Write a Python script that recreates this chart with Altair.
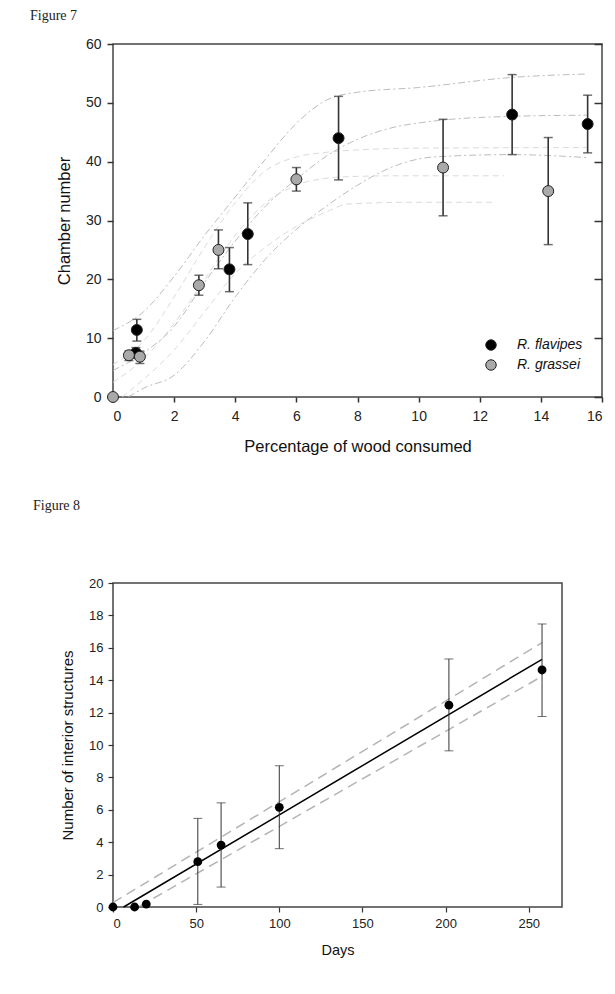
import altair as alt
import pandas as pd

FONT = "Liberation Sans"
SERIF = "Liberation Serif"

# ---------------- Figure 7 data ----------------
fig7_label = "Figure 7"
species = ["R. flavipes", "R. grassei"]

fl_x = [0.78, 0.75, 3.81, 4.41, 7.38, 13.06, 15.53]
fl_y = [11.4, 7.5, 21.7, 27.7, 44.0, 48.0, 46.4]
fl_lo = [9.5, 6.6, 17.9, 22.5, 36.9, 41.2, 41.5]
fl_hi = [13.2, 8.4, 25.4, 33.0, 51.1, 54.8, 51.3]

gr_x = [0.0, 0.52, 0.88, 2.81, 3.45, 6.0, 10.8, 14.24]
gr_y = [0.0, 7.1, 6.85, 19.0, 25.0, 37.0, 39.0, 35.0]
gr_lo = [0.0, 6.2, 5.7, 17.3, 21.8, 35.0, 30.8, 25.9]
gr_hi = [0.0, 7.8, 7.8, 20.7, 28.4, 39.0, 47.2, 44.1]

# fitted curves and confidence bands
fl_fit_x = [0, 1, 2, 3, 4, 5, 6, 7, 8, 9, 10.5, 13, 15.5]
fl_fit_y = [4.5, 7.5, 12.0, 19.5, 26.5, 32.5, 37.0, 41.0, 43.8, 45.6, 46.9, 47.7, 47.9]
fl_up_x = [0, 1, 2, 3, 4, 5, 6, 7, 8, 10, 13, 15.5]
fl_up_y = [11.3, 14.5, 20.5, 27.5, 34.0, 40.5, 46.5, 50.5, 51.8, 52.6, 54.3, 54.9]
fl_low_x = [0.5, 1, 2, 3, 4, 5, 6, 7, 8, 9, 10.5, 13, 15.5]
fl_low_y = [0.0, 1.5, 3.7, 9.5, 17.0, 23.5, 28.5, 32.5, 36.0, 38.8, 40.8, 41.2, 40.7]

gr_fit_x = [0, 1, 2, 3, 4, 5, 6, 7, 8, 9.2, 12.8]
gr_fit_y = [2.5, 6.5, 12.5, 20.0, 27.5, 33.0, 36.0, 37.2, 37.5, 37.6, 37.6]
gr_up_x = [0, 1, 2, 3, 4, 5, 6, 7, 8, 10, 15.5]
gr_up_y = [5.5, 9.5, 17.0, 25.5, 33.0, 38.5, 40.8, 41.6, 42.0, 42.3, 42.4]
gr_low_x = [0.3, 1, 2, 3, 4, 5, 6, 7, 7.7, 9.7, 12.5]
gr_low_y = [0.0, 3.0, 8.0, 14.5, 21.0, 25.5, 29.0, 31.5, 32.8, 33.1, 33.1]

x7_ticks = [0, 2, 4, 6, 8, 10, 12, 14, 16]
y7_ticks = [0, 10, 20, 30, 40, 50, 60]
x7_title = "Percentage of wood consumed"
y7_title = "Chamber number"

# ---------------- Figure 8 data ----------------
fig8_label = "Figure 8"
days = [0, 13, 20, 51, 65, 100, 202, 258]
n_struct = [0.0, 0.0, 0.18, 2.8, 3.82, 6.15, 12.46, 14.63]
n_lo = [0.0, 0.0, 0.18, 0.16, 1.23, 3.6, 9.64, 11.76]
n_hi = [0.0, 0.0, 0.18, 5.47, 6.43, 8.72, 15.31, 17.47]

fit_days = [6.4, 258]
fit_vals = [0.0, 15.29]
up_days = [0, 258]
up_vals = [0.27, 16.32]
low_days = [16, 258]
low_vals = [0.05, 14.24]

x8_ticks = [0, 50, 100, 150, 200, 250]
y8_ticks = [0, 2, 4, 6, 8, 10, 12, 14, 16, 18, 20]
x8_title = "Days"
y8_title = "Number of interior structures"

# ---------------- tables ----------------
pts7 = pd.DataFrame({
    "x": fl_x + gr_x,
    "y": fl_y + gr_y,
    "lo": fl_lo + gr_lo,
    "hi": fl_hi + gr_hi,
    "species": [species[0]] * len(fl_x) + [species[1]] * len(gr_x),
})


def curves(specs):
    rows = []
    for name, xs, ys in specs:
        for i, (a, b) in enumerate(zip(xs, ys)):
            rows.append({"x": a, "y": b, "curve": name, "i": i})
    return pd.DataFrame(rows)


cfl = curves([("fit", fl_fit_x, fl_fit_y), ("up", fl_up_x, fl_up_y), ("low", fl_low_x, fl_low_y)])
cgr = curves([("fit", gr_fit_x, gr_fit_y), ("up", gr_up_x, gr_up_y), ("low", gr_low_x, gr_low_y)])

pts8 = pd.DataFrame({"d": days, "n": n_struct, "lo": n_lo, "hi": n_hi})
lines8 = pd.DataFrame({
    "d": fit_days + up_days + low_days,
    "n": fit_vals + up_vals + low_vals,
    "line": ["fit"] * 2 + ["up"] * 2 + ["low"] * 2,
})

# ---------------- Figure 7 ----------------
W7, H7 = 489, 353
X7 = alt.Scale(domain=[0, 16], nice=False, zero=False)
Y7 = alt.Scale(domain=[0, 60], nice=False)

ax7x = alt.Axis(values=x7_ticks, format="d", title=x7_title, domain=False, grid=False,
                tickSize=5, tickWidth=1.5, tickColor="#333", labelPadding=7,
                labelFontSize=14, labelFont=FONT, labelColor="#222",
                titleFont=FONT, titleFontSize=16.5, titleFontWeight="normal", titleColor="#111",
                titleX=W7 / 2, titleY=49, titleBaseline="middle", titleAlign="center")
ax7y = alt.Axis(values=y7_ticks, format="d", title=y7_title, domain=False, grid=False,
                tickSize=6, tickWidth=1.5, tickColor="#333", labelPadding=6,
                labelFontSize=14, labelFont=FONT, labelColor="#222",
                titleFont=FONT, titleFontSize=16.5, titleFontWeight="normal", titleColor="#111",
                titleAngle=270, titleX=-48.5, titleY=H7 / 2, titleBaseline="middle", titleAlign="center")

ex7 = alt.X("x:Q", scale=X7, axis=ax7x)
ey7 = alt.Y("y:Q", scale=Y7, axis=ax7y)

curves_fl = alt.Chart(cfl).mark_line(color="#b4b4b4", strokeWidth=0.9, strokeDash=[7, 3, 2, 3],
                                     interpolate="monotone").encode(
    x=ex7, y=ey7, detail="curve:N", order="i:Q")
curves_gr = alt.Chart(cgr).mark_line(color="#d6d6d6", strokeWidth=0.9, strokeDash=[6, 4],
                                     interpolate="monotone").encode(
    x=ex7, y=ey7, detail="curve:N", order="i:Q")

bars7 = alt.Chart(pts7).transform_filter("datum.hi > datum.lo")
rules7 = bars7.mark_rule(color="#333", strokeWidth=1.6).encode(
    x=ex7, y=alt.Y("lo:Q", scale=Y7, axis=ax7y), y2="hi:Q")
caps7a = bars7.mark_tick(color="#333", orient="horizontal", size=9, thickness=1.5).encode(
    x=ex7, y=alt.Y("lo:Q", scale=Y7, axis=ax7y))
caps7b = bars7.mark_tick(color="#333", orient="horizontal", size=9, thickness=1.5).encode(
    x=ex7, y=alt.Y("hi:Q", scale=Y7, axis=ax7y))

points7 = alt.Chart(pts7).mark_circle(size=120, stroke="#222", strokeWidth=1, opacity=1).encode(
    x=ex7, y=ey7,
    fill=alt.Fill("species:N", scale=alt.Scale(domain=species, range=["#000000", "#a9a9a9"]),
                  legend=alt.Legend(title=None, orient="none", legendX=371, legendY=294,
                                    padding=0, symbolSize=110, symbolType="circle",
                                    symbolStrokeColor="#222", symbolStrokeWidth=1,
                                    labelOffset=19, rowPadding=4, labelFont=FONT,
                                    labelFontSize=14, labelFontStyle="italic", labelColor="#111")),
)

label7 = alt.Chart(pd.DataFrame({"t": [fig7_label]})).mark_text(
    align="left", baseline="top", font=SERIF, fontSize=14, color="#222").encode(
    text="t:N", x=alt.value(-83), y=alt.value(-35))

right7 = alt.Chart(pts7).mark_point(opacity=0, size=1).encode(
    x=ex7,
    y=alt.Y("y:Q", scale=Y7, axis=alt.Axis(orient="right", values=y7_ticks, labels=False, title=None,
                                           domain=False, grid=False, tickSize=8, offset=-8,
                                           tickColor="#333", tickWidth=1.5)))

inner7 = alt.layer(curves_fl, curves_gr, rules7, caps7a, caps7b, points7, label7)
fig7 = alt.layer(inner7, right7).resolve_axis(y="independent").properties(width=W7, height=H7)

# ---------------- Figure 8 ----------------
W8, H8 = 449, 324
X8 = alt.Scale(domain=[0, 270], nice=False, zero=False)
Y8 = alt.Scale(domain=[0, 20], nice=False)

ax8x = alt.Axis(values=x8_ticks, format="d", title=x8_title, domain=False, grid=False,
                tickSize=5, tickWidth=1.2, tickColor="#333", labelPadding=5,
                labelFontSize=13, labelFont=FONT, labelColor="#222",
                titleFont=FONT, titleFontSize=14.5, titleFontWeight="normal", titleColor="#111",
                titleX=W8 / 2, titleY=43, titleBaseline="middle", titleAlign="center")
ax8y = alt.Axis(values=y8_ticks, format="d", title=y8_title, domain=False, grid=False,
                tickSize=5, tickWidth=1.2, tickColor="#333", labelPadding=5,
                labelFontSize=13, labelFont=FONT, labelColor="#222",
                titleFont=FONT, titleFontSize=15, titleFontWeight="normal", titleColor="#111",
                titleAngle=270, titleX=-46, titleY=H8 / 2, titleBaseline="middle", titleAlign="center")

ex8 = alt.X("d:Q", scale=X8, axis=ax8x)
ey8 = alt.Y("n:Q", scale=Y8, axis=ax8y)

bands8 = alt.Chart(lines8).transform_filter("datum.line != 'fit'").mark_line(
    color="#b4b4b4", strokeWidth=1.5, strokeDash=[10, 6]).encode(x=ex8, y=ey8, detail="line:N")
fit8 = alt.Chart(lines8).transform_filter("datum.line == 'fit'").mark_line(
    color="#000000", strokeWidth=1.5).encode(x=ex8, y=ey8)

bars8 = alt.Chart(pts8).transform_filter("datum.hi > datum.lo")
rules8 = bars8.mark_rule(color="#333", strokeWidth=1).encode(
    x=ex8, y=alt.Y("lo:Q", scale=Y8, axis=ax8y), y2="hi:Q")
caps8a = bars8.mark_tick(color="#333", orient="horizontal", size=9, thickness=1).encode(
    x=ex8, y=alt.Y("lo:Q", scale=Y8, axis=ax8y))
caps8b = bars8.mark_tick(color="#333", orient="horizontal", size=9, thickness=1).encode(
    x=ex8, y=alt.Y("hi:Q", scale=Y8, axis=ax8y))
points8 = alt.Chart(pts8).mark_circle(size=78, color="#000000", opacity=1).encode(x=ex8, y=ey8)

label8 = alt.Chart(pd.DataFrame({"t": [fig8_label]})).mark_text(
    align="left", baseline="top", font=SERIF, fontSize=14, color="#222").encode(
    text="t:N", x=alt.value(-80), y=alt.value(-84))

fig8 = alt.layer(bands8, fit8, rules8, caps8a, caps8b, points8, label8).properties(width=W8, height=H8)

chart = alt.vconcat(fig7, fig8, spacing=42).properties(
    padding={"left": 21, "top": 0, "right": 0, "bottom": 0},
    background="white",
).configure_view(stroke="#444", strokeWidth=1.5)

chart.save("out.html", embed_options={"renderer": "svg", "actions": False})
